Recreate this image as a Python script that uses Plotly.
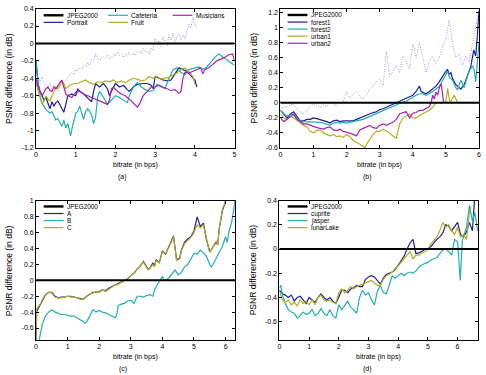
import plotly.graph_objects as go

W, H = 486, 375

# ---------------- data ----------------
# (a)
a_portrait_x = [0, 0.05, 0.1, 0.15, 0.2, 0.25, 0.3, 0.35, 0.4, 0.45, 0.5, 0.55, 0.6, 0.65, 0.7, 0.75, 0.8, 0.9, 1.0, 1.05, 1.1, 1.2, 1.3, 1.4, 1.45, 1.5, 1.6, 1.7, 1.8, 1.85, 1.9, 2.0, 2.1, 2.2, 2.3, 2.35, 2.45, 2.55, 2.7, 2.8, 2.9, 2.95, 3.0, 3.1, 3.2, 3.3, 3.4, 3.5, 3.6, 3.7, 3.8, 3.9, 4.0, 4.05]
a_portrait_y = [-0.2, -0.45, -0.55, -0.6, -0.65, -0.62, -0.7, -0.75, -0.67, -0.72, -0.68, -0.66, -0.7, -0.74, -0.79, -0.7, -0.6, -0.58, -0.6, -0.52, -0.55, -0.58, -0.62, -0.67, -0.55, -0.46, -0.5, -0.46, -0.52, -0.6, -0.55, -0.46, -0.5, -0.48, -0.53, -0.55, -0.5, -0.47, -0.46, -0.46, -0.48, -0.52, -0.38, -0.4, -0.42, -0.43, -0.42, -0.35, -0.28, -0.3, -0.32, -0.37, -0.42, -0.5]
a_cafeteria_x = [0, 0.05, 0.1, 0.15, 0.2, 0.25, 0.3, 0.35, 0.4, 0.45, 0.5, 0.55, 0.6, 0.65, 0.7, 0.75, 0.8, 0.87, 0.92, 0.97, 1.0, 1.05, 1.1, 1.15, 1.2, 1.25, 1.3, 1.35, 1.4, 1.45, 1.5, 1.55, 1.6, 1.7, 1.8, 1.9, 2.0, 2.1, 2.2, 2.3, 2.35, 2.45, 2.55, 2.65, 2.75, 2.85, 2.95, 3.05, 3.15, 3.25, 3.35, 3.45, 3.55, 3.65, 3.75, 3.85, 4.0, 4.1, 4.2, 4.3, 4.4, 4.5, 4.6, 4.7, 4.8, 4.9, 5.0]
a_cafeteria_y = [-0.2, -0.45, -0.6, -0.68, -0.72, -0.76, -0.78, -0.8, -0.78, -0.84, -0.88, -0.86, -0.9, -0.95, -0.88, -0.97, -0.92, -1.06, -0.95, -0.86, -0.8, -0.78, -0.72, -0.8, -0.87, -0.78, -0.75, -0.78, -0.82, -0.92, -0.85, -0.62, -0.55, -0.62, -0.7, -0.65, -0.6, -0.62, -0.65, -0.68, -0.6, -0.5, -0.45, -0.5, -0.53, -0.55, -0.54, -0.47, -0.5, -0.52, -0.4, -0.3, -0.28, -0.33, -0.36, -0.3, -0.28, -0.27, -0.3, -0.27, -0.22, -0.16, -0.12, -0.15, -0.18, -0.22, -0.25]
a_fruit_x = [0, 0.05, 0.1, 0.15, 0.2, 0.25, 0.3, 0.35, 0.4, 0.45, 0.5, 0.55, 0.6, 0.65, 0.7, 0.75, 0.85, 0.95, 1.05, 1.15, 1.25, 1.35, 1.45, 1.55, 1.65, 1.75, 1.85, 1.95, 2.05, 2.15, 2.25, 2.35, 2.45, 2.55, 2.65, 2.75, 2.85, 2.95, 3.05, 3.15, 3.25, 3.35, 3.45, 3.55, 3.65, 3.75, 3.85, 3.95, 4.0]
a_fruit_y = [-0.45, -0.55, -0.62, -0.7, -0.66, -0.6, -0.64, -0.66, -0.6, -0.55, -0.5, -0.52, -0.48, -0.44, -0.46, -0.52, -0.48, -0.46, -0.46, -0.44, -0.42, -0.45, -0.47, -0.44, -0.45, -0.43, -0.44, -0.42, -0.45, -0.43, -0.45, -0.42, -0.4, -0.41, -0.43, -0.42, -0.38, -0.4, -0.38, -0.41, -0.4, -0.39, -0.36, -0.34, -0.3, -0.28, -0.32, -0.38, -0.47]
a_musicians_x = [0, 0.05, 0.1, 0.15, 0.2, 0.25, 0.3, 0.35, 0.4, 0.45, 0.5, 0.55, 0.6, 0.65, 0.7, 0.75, 0.8, 0.9, 1.0, 1.1, 1.2, 1.3, 1.4, 1.5, 1.6, 1.7, 1.8, 1.85, 1.9, 1.95, 2.05, 2.15, 2.25, 2.35, 2.45, 2.55, 2.6, 2.7, 2.8, 2.9, 3.0, 3.1, 3.2, 3.3, 3.4, 3.5, 3.6, 3.65, 3.7, 3.75, 3.85, 3.95, 4.05, 4.15, 4.2, 4.25, 4.35, 4.45, 4.55, 4.65, 4.75, 4.85, 4.95, 5.0]
a_musicians_y = [-0.4, -0.5, -0.55, -0.6, -0.56, -0.52, -0.5, -0.54, -0.55, -0.5, -0.52, -0.48, -0.45, -0.42, -0.5, -0.58, -0.6, -0.62, -0.56, -0.55, -0.58, -0.6, -0.62, -0.64, -0.66, -0.68, -0.7, -0.65, -0.52, -0.5, -0.55, -0.58, -0.6, -0.64, -0.68, -0.73, -0.7, -0.6, -0.55, -0.5, -0.5, -0.48, -0.5, -0.52, -0.54, -0.53, -0.57, -0.55, -0.4, -0.33, -0.34, -0.32, -0.3, -0.28, -0.35, -0.3, -0.28, -0.24, -0.2, -0.18, -0.16, -0.13, -0.12, -0.2]
a_dotted_x = [0, 0.05, 0.1, 0.15, 0.2, 0.25, 0.3, 0.35, 0.4, 0.45, 0.5, 0.55, 0.6, 0.65, 0.7, 0.75, 0.8, 0.85, 0.9, 0.95, 1.0, 1.05, 1.1, 1.15, 1.2, 1.25, 1.3, 1.35, 1.4, 1.45, 1.5, 1.55, 1.6, 1.65, 1.7, 1.75, 1.8, 1.85, 1.9, 1.95, 2.0, 2.05, 2.1, 2.15, 2.2, 2.25, 2.3, 2.35, 2.4, 2.45, 2.5, 2.55, 2.6, 2.65, 2.7, 2.75, 2.8, 2.85, 2.9, 2.95, 3.0, 3.05, 3.1, 3.15, 3.2, 3.25, 3.3, 3.35, 3.4, 3.45, 3.5, 3.55, 3.6, 3.65, 3.7, 3.75, 3.8, 3.85, 3.9, 3.95, 4.0, 4.05]
a_dotted_y = [-0.25, -0.4, -0.45, -0.38, -0.45, -0.5, -0.52, -0.45, -0.5, -0.48, -0.52, -0.55, -0.5, -0.48, -0.45, -0.42, -0.38, -0.35, -0.33, -0.36, -0.3, -0.32, -0.28, -0.3, -0.26, -0.28, -0.22, -0.25, -0.18, -0.2, -0.12, -0.18, -0.2, -0.16, -0.15, -0.17, -0.13, -0.18, -0.16, -0.12, -0.15, -0.1, -0.14, -0.12, -0.16, -0.12, -0.14, -0.1, -0.13, -0.11, -0.14, -0.1, -0.08, -0.12, -0.06, -0.1, -0.09, -0.12, -0.05, -0.08, 0.06, -0.02, 0.03, -0.04, 0.08, 0.02, -0.03, 0.1, 0.04, 0.12, 0.0, 0.08, 0.12, 0.04, 0.1, 0.05, 0.15, 0.22, 0.18, 0.3, 0.22, 0.17]

# (b)
b_forest1_x = [0, 0.1, 0.2, 0.3, 0.4, 0.5, 0.6, 0.7, 0.8, 0.9, 1.0, 1.1, 1.2, 1.3, 1.4, 1.5, 1.6, 1.7, 1.8, 1.9, 2.0, 2.1, 2.2, 2.3, 2.4, 2.5, 2.6, 2.7, 2.8, 2.9, 3.0, 3.1, 3.2, 3.3, 3.4, 3.5, 3.6, 3.7, 3.8, 3.9, 4.0, 4.1, 4.2, 4.25, 4.3, 4.4, 4.5, 4.6, 4.7, 4.8, 4.9, 5.0, 5.05, 5.1, 5.15, 5.2, 5.3, 5.4, 5.45, 5.55, 5.65, 5.75, 5.84, 5.9, 5.95, 6.0]
b_forest1_y = [-0.1, -0.15, -0.2, -0.15, -0.12, -0.18, -0.24, -0.24, -0.22, -0.22, -0.2, -0.21, -0.22, -0.23, -0.25, -0.27, -0.24, -0.23, -0.25, -0.24, -0.24, -0.23, -0.24, -0.22, -0.2, -0.18, -0.17, -0.15, -0.13, -0.12, -0.09, -0.08, -0.06, -0.04, -0.02, 0.0, 0.02, 0.03, 0.06, 0.08, 0.1, 0.15, 0.22, 0.15, 0.14, 0.12, 0.15, 0.18, 0.22, 0.28, 0.36, 0.42, 0.44, 0.38, 0.4, 0.32, 0.24, 0.2, 0.18, 0.24, 0.36, 0.48, 0.7, 0.62, 0.9, 1.22]
b_forest2_x = [0, 0.1, 0.2, 0.3, 0.35, 0.5, 0.6, 0.7, 0.8, 0.9, 1.0, 1.1, 1.2, 1.3, 1.4, 1.5, 1.6, 1.7, 1.8, 1.9, 2.0, 2.1, 2.2, 2.3, 2.4, 2.5, 2.6, 2.7, 2.8, 2.9, 3.0, 3.1, 3.2, 3.3, 3.4, 3.5, 3.6, 3.7, 3.8, 3.9, 4.0, 4.1, 4.2, 4.3, 4.4, 4.5, 4.6, 4.7, 4.8, 4.9, 5.0, 5.05, 5.1, 5.2, 5.3, 5.35, 5.45, 5.55, 5.6, 5.7, 5.8, 5.85, 5.9, 5.95, 6.0]
b_forest2_y = [-0.1, -0.14, -0.18, -0.16, -0.15, -0.2, -0.24, -0.25, -0.25, -0.25, -0.25, -0.26, -0.26, -0.27, -0.28, -0.3, -0.27, -0.26, -0.27, -0.26, -0.27, -0.26, -0.26, -0.25, -0.23, -0.22, -0.2, -0.18, -0.16, -0.14, -0.12, -0.1, -0.09, -0.07, -0.05, -0.03, -0.01, 0.01, 0.02, 0.05, 0.08, 0.1, 0.12, 0.12, 0.1, 0.12, 0.15, 0.18, 0.22, 0.3, 0.38, 0.42, 0.34, 0.3, 0.2, 0.17, 0.3, 0.2, 0.28, 0.42, 0.49, 0.44, 0.28, 0.6, 0.8]
b_urban1_x = [0, 0.1, 0.2, 0.3, 0.4, 0.5, 0.6, 0.7, 0.8, 0.9, 1.0, 1.1, 1.2, 1.3, 1.4, 1.5, 1.6, 1.7, 1.8, 1.9, 2.0, 2.1, 2.2, 2.3, 2.4, 2.5, 2.55, 2.6, 2.7, 2.8, 2.9, 3.0, 3.1, 3.2, 3.3, 3.4, 3.5, 3.55, 3.6, 3.7, 3.8, 3.9, 4.0, 4.1, 4.2, 4.3, 4.4, 4.5, 4.6, 4.7, 4.8, 4.9, 5.0, 5.05, 5.12, 5.25, 5.35]
b_urban1_y = [-0.15, -0.2, -0.22, -0.18, -0.2, -0.24, -0.27, -0.3, -0.32, -0.38, -0.4, -0.37, -0.36, -0.4, -0.42, -0.44, -0.42, -0.45, -0.44, -0.46, -0.42, -0.45, -0.5, -0.52, -0.55, -0.58, -0.6, -0.55, -0.48, -0.42, -0.38, -0.38, -0.35, -0.37, -0.4, -0.44, -0.47, -0.38, -0.28, -0.2, -0.18, -0.15, -0.2, -0.2, -0.17, -0.15, -0.12, -0.1, -0.06, 0.0, 0.0, 0.0, 0.02, 0.19, 0.0, 0.1, 0.01]
b_urban2_x = [0, 0.1, 0.2, 0.3, 0.4, 0.5, 0.6, 0.7, 0.8, 0.9, 1.0, 1.1, 1.2, 1.3, 1.4, 1.5, 1.6, 1.7, 1.8, 1.9, 2.0, 2.1, 2.2, 2.3, 2.4, 2.5, 2.6, 2.7, 2.8, 2.9, 3.0, 3.1, 3.2, 3.3, 3.4, 3.5, 3.6, 3.7, 3.8, 3.9, 4.0, 4.1, 4.2, 4.3, 4.4, 4.5, 4.55, 4.6, 4.65, 4.7, 4.75, 4.8, 4.86, 4.93]
b_urban2_y = [-0.2, -0.25, -0.22, -0.18, -0.15, -0.22, -0.25, -0.28, -0.28, -0.3, -0.32, -0.33, -0.34, -0.35, -0.33, -0.32, -0.36, -0.37, -0.35, -0.38, -0.39, -0.4, -0.42, -0.44, -0.36, -0.34, -0.32, -0.3, -0.33, -0.34, -0.3, -0.28, -0.3, -0.28, -0.26, -0.22, -0.15, -0.13, -0.12, -0.2, -0.14, -0.13, -0.1, -0.1, -0.08, -0.05, 0.0, 0.1, 0.05, 0.14, 0.1, 0.2, 0.25, 0.0]
b_dotted_x = [0, 0.1, 0.2, 0.3, 0.4, 0.5, 0.6, 0.7, 0.8, 0.9, 1.0, 1.1, 1.2, 1.3, 1.4, 1.5, 1.6, 1.7, 1.8, 1.9, 2.0, 2.1, 2.2, 2.3, 2.4, 2.5, 2.6, 2.7, 2.8, 2.9, 3.0, 3.1, 3.2, 3.3, 3.4, 3.5, 3.6, 3.7, 3.8, 3.9, 4.0, 4.1, 4.2, 4.3, 4.4, 4.5, 4.6, 4.7, 4.8, 4.9, 5.0, 5.1, 5.2, 5.3, 5.4, 5.5, 5.6, 5.7, 5.8, 5.9, 6.0]
b_dotted_y = [-0.08, -0.05, -0.06, -0.03, -0.02, -0.08, -0.12, -0.14, -0.1, -0.06, -0.02, -0.04, -0.06, -0.03, -0.05, 0.0, -0.02, -0.04, 0.0, 0.02, 0.15, 0.05, 0.12, 0.15, 0.08, 0.05, 0.1, 0.18, 0.22, 0.28, 0.32, 0.22, 0.68, 0.35, 0.42, 0.5, 0.4, 0.62, 0.55, 0.45, 0.78, 0.6, 0.8, 0.58, 0.4, 0.55, 0.62, 0.52, 0.6, 0.75, 0.85, 1.1, 0.8, 0.6, 0.65, 0.5, 0.62, 0.55, 0.8, 1.0, 1.25]

# (c)
c_A_x = [0, 0.02, 0.05, 0.1, 0.15, 0.2, 0.3, 0.4, 0.5, 0.6, 0.7, 0.8, 0.9, 1.0, 1.1, 1.2, 1.3, 1.4, 1.5, 1.6, 1.7, 1.8, 1.9, 2.0, 2.1, 2.2, 2.3, 2.4, 2.5, 2.6, 2.7, 2.8, 2.9, 3.0, 3.1, 3.2, 3.3, 3.4, 3.5, 3.55, 3.6, 3.7, 3.75, 3.8, 3.9, 4.0, 4.1, 4.2, 4.3, 4.35, 4.45, 4.55, 4.6, 4.7, 4.8, 4.9, 5.0, 5.1, 5.2, 5.3, 5.4, 5.5, 5.6, 5.7, 5.75, 5.8, 5.9, 6.0, 6.05]
c_A_y = [-0.75, -0.4, -0.37, -0.33, -0.3, -0.25, -0.18, -0.15, -0.15, -0.2, -0.22, -0.21, -0.21, -0.2, -0.2, -0.21, -0.22, -0.23, -0.24, -0.2, -0.17, -0.15, -0.15, -0.14, -0.12, -0.13, -0.1, -0.08, -0.06, -0.04, -0.03, -0.01, 0.02, 0.06, 0.09, 0.14, 0.18, 0.24, 0.16, 0.14, 0.15, 0.22, 0.18, 0.26, 0.22, 0.37, 0.33, 0.42, 0.5, 0.56, 0.26, 0.28, 0.38, 0.48, 0.52, 0.55, 0.62, 0.8, 0.68, 0.72, 0.5, 0.36, 0.42, 0.48, 0.45, 0.65, 0.88, 1.0, 1.05]
c_B_x = [0.1, 0.12, 0.15, 0.2, 0.25, 0.3, 0.4, 0.5, 0.6, 0.7, 0.8, 0.9, 1.0, 1.1, 1.2, 1.3, 1.4, 1.5, 1.55, 1.6, 1.7, 1.8, 1.9, 2.0, 2.1, 2.2, 2.3, 2.4, 2.5, 2.55, 2.6, 2.7, 2.8, 2.9, 3.0, 3.1, 3.2, 3.3, 3.4, 3.5, 3.6, 3.7, 3.75, 3.8, 3.9, 4.0, 4.05, 4.1, 4.2, 4.3, 4.4, 4.45, 4.5, 4.6, 4.7, 4.8, 4.9, 5.0, 5.1, 5.2, 5.3, 5.4, 5.5, 5.55, 5.6, 5.7, 5.8, 5.9, 6.0, 6.05, 6.1, 6.2, 6.3]
c_B_y = [-0.75, -0.7, -0.62, -0.55, -0.5, -0.45, -0.4, -0.37, -0.4, -0.42, -0.43, -0.43, -0.44, -0.45, -0.45, -0.47, -0.49, -0.52, -0.54, -0.52, -0.45, -0.37, -0.4, -0.38, -0.4, -0.41, -0.43, -0.45, -0.47, -0.44, -0.32, -0.3, -0.29, -0.26, -0.25, -0.29, -0.2, -0.2, -0.21, -0.19, -0.18, -0.2, -0.12, -0.08, -0.02, 0.05, 0.0, 0.0, 0.03, 0.08, 0.13, 0.1, 0.07, 0.1, 0.17, 0.2, 0.28, 0.34, 0.33, 0.38, 0.35, 0.3, 0.2, 0.17, 0.2, 0.27, 0.35, 0.43, 0.55, 0.48, 0.6, 0.75, 1.0]
c_C_x = [0, 0.02, 0.05, 0.1, 0.15, 0.2, 0.3, 0.4, 0.5, 0.6, 0.7, 0.8, 0.9, 1.0, 1.1, 1.2, 1.3, 1.4, 1.5, 1.6, 1.7, 1.8, 1.9, 2.0, 2.1, 2.2, 2.3, 2.4, 2.5, 2.6, 2.7, 2.8, 2.9, 3.0, 3.1, 3.2, 3.3, 3.4, 3.5, 3.55, 3.6, 3.7, 3.75, 3.8, 3.9, 4.0, 4.1, 4.2, 4.3, 4.35, 4.45, 4.55, 4.6, 4.7, 4.8, 4.9, 5.0, 5.1, 5.2, 5.3, 5.4, 5.5, 5.6, 5.7, 5.75, 5.8, 5.9, 6.0, 6.05]
c_C_y = [-0.75, -0.36, -0.34, -0.32, -0.29, -0.24, -0.18, -0.15, -0.16, -0.21, -0.22, -0.22, -0.21, -0.2, -0.21, -0.21, -0.22, -0.24, -0.24, -0.21, -0.17, -0.16, -0.14, -0.15, -0.12, -0.14, -0.11, -0.08, -0.06, -0.05, -0.03, -0.01, 0.02, 0.06, 0.09, 0.14, 0.18, 0.23, 0.16, 0.13, 0.15, 0.2, 0.17, 0.25, 0.22, 0.36, 0.34, 0.41, 0.5, 0.55, 0.25, 0.27, 0.37, 0.46, 0.5, 0.54, 0.6, 0.7, 0.66, 0.7, 0.52, 0.35, 0.42, 0.5, 0.44, 0.66, 0.9, 1.0, 1.05]

# (d)
d_cuprite_x = [0, 0.1, 0.2, 0.3, 0.4, 0.5, 0.6, 0.7, 0.8, 0.9, 1.0, 1.1, 1.2, 1.3, 1.4, 1.5, 1.6, 1.7, 1.8, 1.9, 2.0, 2.1, 2.2, 2.3, 2.4, 2.5, 2.6, 2.7, 2.8, 2.9, 3.0, 3.1, 3.2, 3.3, 3.4, 3.5, 3.6, 3.7, 3.8, 3.9, 4.0, 4.1, 4.2, 4.3, 4.4, 4.5, 4.6, 4.7, 4.8, 4.9, 5.0, 5.1, 5.2, 5.3, 5.4, 5.5, 5.6, 5.7, 5.8, 5.9, 6.0, 6.1, 6.2, 6.3, 6.4, 6.5, 6.57]
d_cuprite_y = [-0.34, -0.37, -0.38, -0.4, -0.38, -0.43, -0.4, -0.39, -0.42, -0.45, -0.4, -0.42, -0.44, -0.4, -0.37, -0.4, -0.42, -0.4, -0.43, -0.45, -0.4, -0.34, -0.34, -0.36, -0.33, -0.32, -0.3, -0.31, -0.31, -0.25, -0.23, -0.22, -0.23, -0.26, -0.29, -0.24, -0.21, -0.2, -0.19, -0.17, -0.13, -0.1, -0.06, 0.0, 0.05, 0.08, -0.04, -0.03, -0.02, 0.0, 0.0, 0.02, 0.05, 0.08, 0.1, 0.13, 0.2, 0.19, 0.15, 0.19, 0.22, 0.12, 0.1, 0.14, 0.22, 0.15, 0.4]
d_jasper_x = [0, 0.05, 0.1, 0.2, 0.3, 0.4, 0.5, 0.6, 0.7, 0.8, 0.9, 1.0, 1.1, 1.2, 1.3, 1.4, 1.5, 1.6, 1.7, 1.8, 1.9, 2.0, 2.1, 2.2, 2.3, 2.4, 2.5, 2.6, 2.7, 2.8, 2.9, 3.0, 3.1, 3.2, 3.3, 3.4, 3.5, 3.6, 3.7, 3.8, 3.9, 4.0, 4.1, 4.2, 4.3, 4.4, 4.5, 4.6, 4.7, 4.8, 4.9, 5.0, 5.1, 5.2, 5.3, 5.4, 5.5, 5.6, 5.7, 5.8, 5.9, 6.0, 6.09, 6.16, 6.3, 6.4, 6.5, 6.58, 6.68]
d_jasper_y = [-0.32, -0.3, -0.38, -0.45, -0.5, -0.52, -0.53, -0.57, -0.55, -0.52, -0.54, -0.53, -0.5, -0.55, -0.53, -0.49, -0.53, -0.55, -0.5, -0.55, -0.57, -0.46, -0.5, -0.46, -0.43, -0.48, -0.5, -0.53, -0.4, -0.34, -0.38, -0.36, -0.42, -0.46, -0.35, -0.3, -0.36, -0.37, -0.3, -0.22, -0.24, -0.22, -0.2, -0.22, -0.2, -0.19, -0.2, -0.18, -0.15, -0.13, -0.12, -0.11, -0.09, -0.08, -0.07, -0.04, -0.01, 0.0, -0.02, -0.05, 0.08, 0.06, -0.26, 0.07, 0.18, 0.36, 0.23, 0.3, 0.15]
d_lunar_x = [0, 0.1, 0.2, 0.3, 0.4, 0.5, 0.6, 0.7, 0.8, 0.9, 1.0, 1.1, 1.2, 1.3, 1.4, 1.5, 1.6, 1.7, 1.8, 1.9, 2.0, 2.1, 2.2, 2.3, 2.4, 2.5, 2.6, 2.7, 2.8, 2.9, 3.0, 3.1, 3.2, 3.3, 3.4, 3.5, 3.6, 3.7, 3.8, 3.9, 4.0, 4.1, 4.2, 4.3, 4.4, 4.5, 4.6, 4.7, 4.8, 4.9, 5.0, 5.1, 5.2, 5.3, 5.4, 5.5, 5.6, 5.7, 5.8, 5.9, 6.0, 6.1, 6.2, 6.3, 6.4, 6.45]
d_lunar_y = [-0.35, -0.42, -0.44, -0.42, -0.46, -0.44, -0.47, -0.42, -0.45, -0.43, -0.46, -0.42, -0.46, -0.4, -0.38, -0.42, -0.43, -0.42, -0.44, -0.45, -0.36, -0.33, -0.36, -0.34, -0.31, -0.33, -0.31, -0.3, -0.29, -0.28, -0.27, -0.26, -0.28, -0.3, -0.3, -0.25, -0.22, -0.21, -0.19, -0.16, -0.14, -0.11, -0.08, -0.05, -0.02, -0.08, -0.05, -0.05, -0.03, -0.02, 0.0, 0.04, 0.07, 0.1, 0.15, 0.22, 0.18, 0.2, 0.15, 0.12, 0.18, 0.1, 0.12, 0.08, 0.3, 0.35]

# reference (JPEG2000 = 0 dB difference) and axis settings
x_max = [5, 6, 6.3, 6.7]
y_ranges = [[-1.2, 0.4], [-0.6, 1.25], [-0.75, 1.0], [-0.75, 0.4]]
x_ticks = [[0, 1, 2, 3, 4, 5], [0, 1, 2, 3, 4, 5, 6], [0, 1, 2, 3, 4, 5, 6], [0, 1, 2, 3, 4, 5, 6]]
y_ticks = [
    [-1.2, -1, -0.8, -0.6, -0.4, -0.2, 0, 0.2, 0.4],
    [-0.6, -0.4, -0.2, 0, 0.2, 0.4, 0.6, 0.8, 1, 1.2],
    [-0.6, -0.4, -0.2, 0, 0.2, 0.4, 0.6, 0.8, 1],
    [-0.6, -0.4, -0.2, 0, 0.2, 0.4],
]
captions = ["(a)", "(b)", "(c)", "(d)"]
x_title = "bitrate (in bps)"
y_title = "PSNR difference (in dB)"

NAVY = "#1e1e9e"
CYAN = "#20b0b0"
OLIVE = "#b0b020"
MAG = "#b020b0"
DOT = "#9a9ade"
FONT = "Liberation Sans, Arial, sans-serif"

# pixel boxes of the four panels: (left, right, top, bottom)
boxes = [(34.3, 234.5, 4.7, 146.7), (280.7, 481.0, 4.7, 146.7),
         (34.3, 235.0, 200.7, 342.3), (279.7, 480.3, 200.3, 342.3)]

panels = [
    [("Portrait", a_portrait_x, a_portrait_y, NAVY), ("Cafeteria", a_cafeteria_x, a_cafeteria_y, CYAN),
     ("Fruit", a_fruit_x, a_fruit_y, OLIVE), ("Musicians", a_musicians_x, a_musicians_y, MAG)],
    [("forest1", b_forest1_x, b_forest1_y, NAVY), ("forest2", b_forest2_x, b_forest2_y, CYAN),
     ("urban1", b_urban1_x, b_urban1_y, OLIVE), ("urban2", b_urban2_x, b_urban2_y, MAG)],
    [("A", c_A_x, c_A_y, NAVY), ("B", c_B_x, c_B_y, CYAN), ("C", c_C_x, c_C_y, OLIVE)],
    [("cuprite", d_cuprite_x, d_cuprite_y, NAVY), ("jasper", d_jasper_x, d_jasper_y, CYAN),
     ("lunarLake", d_lunar_x, d_lunar_y, OLIVE)],
]
dotted = [(a_dotted_x, a_dotted_y), (b_dotted_x, b_dotted_y), None, None]


def px(x):
    return x / W


def py(y):
    return 1 - y / H


def fmt(v):
    return "%g" % v


fig = go.Figure()
layout = dict(width=W, height=H, margin=dict(l=0, r=0, t=0, b=0),
              paper_bgcolor="white", plot_bgcolor="white", showlegend=False,
              font=dict(family=FONT, size=7, color="black"))
annotations = []
shapes = []


def label(text, x, y, xanchor="center", angle=0, size=7):
    annotations.append(dict(text=text, x=px(x), y=py(y), xref="paper", yref="paper",
                            xanchor=xanchor, yanchor="middle", showarrow=False,
                            textangle=angle, borderpad=0,
                            font=dict(size=size, family=FONT, color="black")))


for i in range(4):
    xa = "xaxis" if i == 0 else "xaxis%d" % (i + 1)
    ya = "yaxis" if i == 0 else "yaxis%d" % (i + 1)
    xr = "x" if i == 0 else "x%d" % (i + 1)
    yr = "y" if i == 0 else "y%d" % (i + 1)
    l, r, t, b = boxes[i]
    common = dict(showline=True, linecolor="black", linewidth=1, mirror="allticks",
                  ticks="inside", ticklen=3, tickcolor="black", tickwidth=0.8,
                  showgrid=False, zeroline=False, tickfont=dict(family=FONT, size=7))
    layout[xa] = dict(domain=[px(l), px(r)], range=[0, x_max[i]], anchor=yr,
                      tickvals=x_ticks[i], ticktext=[fmt(v) for v in x_ticks[i]], **common)
    layout[ya] = dict(domain=[py(b), py(t)], range=y_ranges[i], anchor=xr,
                      tickvals=y_ticks[i], ticktext=[fmt(v) for v in y_ticks[i]], **common)

    if dotted[i] is not None:
        fig.add_trace(go.Scatter(x=dotted[i][0], y=dotted[i][1], mode="lines", xaxis=xr, yaxis=yr,
                                 line=dict(color=DOT, width=1, dash="1px,1.5px")))
    for name, xs, ys, col in panels[i]:
        fig.add_trace(go.Scatter(x=xs, y=ys, mode="lines", name=name, xaxis=xr, yaxis=yr,
                                 line=dict(color=col, width=1.2)))
    fig.add_trace(go.Scatter(x=[0, x_max[i]], y=[0, 0], mode="lines", name="JPEG2000",
                             xaxis=xr, yaxis=yr, line=dict(color="black", width=2)))

    # titles and captions
    label(x_title, (l + r) / 2, b + 17.5)
    label(y_title, l - 26.5, (t + b) / 2, angle=-90, size=8.5)
    label(captions[i], 121.5 if i % 2 == 0 else 368.5, b + 30)

# manual keys (gnuplot style, compact rows)
ROW = 7.2
keys = []
a_entries = [("JPEG2000", "black", 2.4), ("Cafeteria", CYAN, 1.2), ("Musicians", MAG, 1.2),
             ("Portrait", NAVY, 1.2), ("Fruit", OLIVE, 1.2)]
for k, (nm, col, lw) in enumerate(a_entries):
    row, colm = divmod(k, 3)
    keys.append((42 + 65 * colm, 11.5 + ROW * row, nm, col, lw))
b_entries = [("JPEG2000", "black", 2.4), ("forest1", NAVY, 1.2), ("forest2", CYAN, 1.2),
             ("urban1", OLIVE, 1.2), ("urban2", MAG, 1.2)]
for k, (nm, col, lw) in enumerate(b_entries):
    keys.append((288, 11.2 + ROW * k, nm, col, lw))
c_entries = [("JPEG2000", "black", 2.4), ("A", NAVY, 1.2), ("B", CYAN, 1.2), ("C", OLIVE, 1.2)]
for k, (nm, col, lw) in enumerate(c_entries):
    keys.append((42, 206.3 + ROW * k, nm, col, lw))
d_entries = [("JPEG2000", "black", 2.4), ("cuprite", NAVY, 1.2), ("jasper", CYAN, 1.2),
             ("lunarLake", OLIVE, 1.2)]
for k, (nm, col, lw) in enumerate(d_entries):
    keys.append((288, 206.3 + ROW * k, nm, col, lw))

for x0, y0, nm, col, lw in keys:
    shapes.append(dict(type="line", xref="paper", yref="paper", x0=px(x0), x1=px(x0 + 20),
                       y0=py(y0), y1=py(y0), line=dict(color=col, width=lw)))
    label(nm, x0 + 22.5, y0, xanchor="left", size=6.4)

layout["annotations"] = annotations
layout["shapes"] = shapes
fig.update_layout(**layout)
fig.write_html("out.html")
